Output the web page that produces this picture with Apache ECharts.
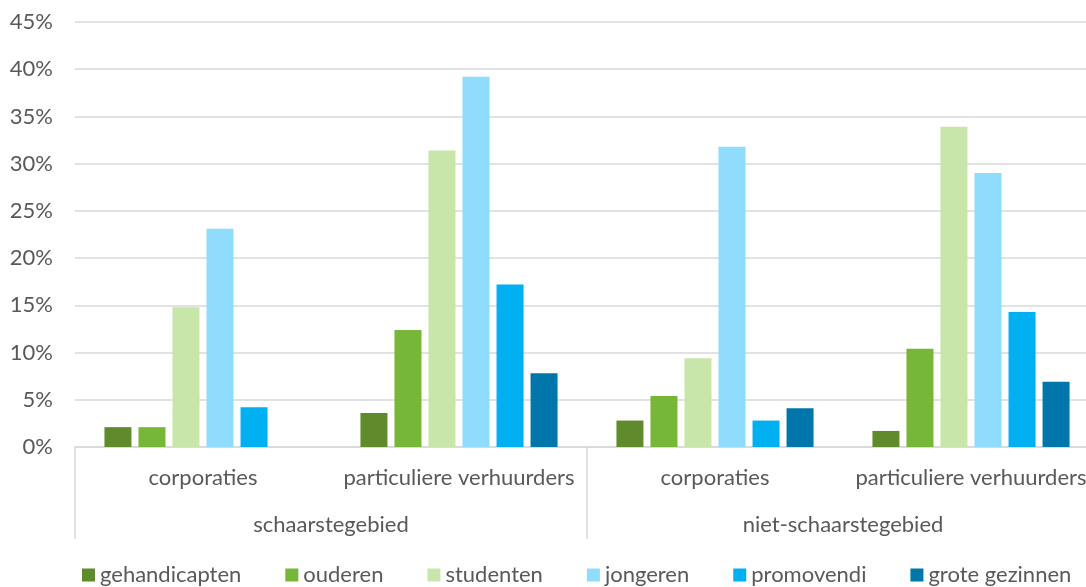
<!DOCTYPE html>
<html>
<head>
<meta charset="utf-8">
<script src="https://cdn.jsdelivr.net/npm/echarts@6/dist/echarts.min.js"></script>
<style>
  html, body { margin: 0; padding: 0; background: #fff; overflow: hidden; }
  /* grafiek loopt rechts iets buiten beeld, net als in het origineel */
  #chart { width: 1099px; height: 587px; }
</style>
</head>
<body>
<div id="chart"></div>
<script type="text/javascript">
// categorieen (twee niveaus)
var subCats = ['corporaties', 'particuliere verhuurders', 'corporaties', 'particuliere verhuurders'];
var mainCats = ['schaarstegebied', 'niet-schaarstegebied'];

// waarden in %
var gehandicapten = [2.1, 3.6, 2.8, 1.7];
var ouderen       = [2.1, 12.4, 5.4, 10.4];
var studenten     = [14.8, 31.4, 9.4, 33.9];
var jongeren      = [23.1, 39.2, 31.8, 29.0];
var promovendi    = [4.2, 17.2, 2.8, 14.3];
var groteGezinnen = [0, 7.8, 4.1, 6.9];

var names  = ['gehandicapten', 'ouderen', 'studenten', 'jongeren', 'promovendi', 'grote gezinnen'];
var values = [gehandicapten, ouderen, studenten, jongeren, promovendi, groteGezinnen];
var colors = ['#5f8b2d', '#76b639', '#c8e6a9', '#90dcfc', '#00b0f0', '#0076aa'];

var txt = '#595959';
var font = 'Lato';
var fs = 22;

var myChart = echarts.init(document.getElementById('chart'));

var series = [];
for (var i = 0; i < names.length; i++) {
    series.push({
        name: names[i],
        type: 'bar',
        xAxisIndex: 0,
        yAxisIndex: 0,
        barWidth: 27,
        barGap: '26%',
        itemStyle: { color: colors[i] },
        data: values[i]
    });
}

var option = {
    animation: false,
    color: colors,
    textStyle: { fontFamily: font },
    grid: {
        left: 75,
        right: 0,
        top: 22,
        bottom: 140
    },
    legend: {
        left: 82,
        top: 564,
        padding: 0,
        icon: 'rect',
        itemWidth: 13,
        itemHeight: 13,
        itemGap: 44,
        textStyle: { color: txt, fontSize: fs, fontFamily: font },
        data: names
    },
    xAxis: [
        {
            type: 'category',
            position: 'bottom',
            data: subCats,
            axisLine: { show: true, lineStyle: { color: '#d9d9d9', width: 1.5 } },
            axisTick: { show: false },
            axisLabel: {
                interval: 0,
                color: txt,
                fontSize: fs,
                fontFamily: font,
                lineHeight: 26,
                margin: 18
            }
        },
        {
            type: 'category',
            position: 'bottom',
            data: mainCats,
            axisLine: { show: false },
            axisTick: {
                show: true,
                interval: 0,
                length: 92,
                lineStyle: { color: '#d9d9d9', width: 1.5 }
            },
            axisLabel: {
                interval: 0,
                color: txt,
                fontSize: fs,
                fontFamily: font,
                lineHeight: 26,
                margin: 65
            }
        }
    ],
    yAxis: {
        type: 'value',
        min: 0,
        max: 45,
        interval: 5,
        axisLine: { show: false },
        axisTick: { show: false },
        axisLabel: {
            color: txt,
            fontSize: fs,
            fontFamily: font,
            margin: 22,
            formatter: '{value}%'
        },
        splitLine: { lineStyle: { color: '#d9d9d9', width: 1.5 } }
    },
    series: series
};

myChart.setOption(option);
</script>
</body>
</html>
